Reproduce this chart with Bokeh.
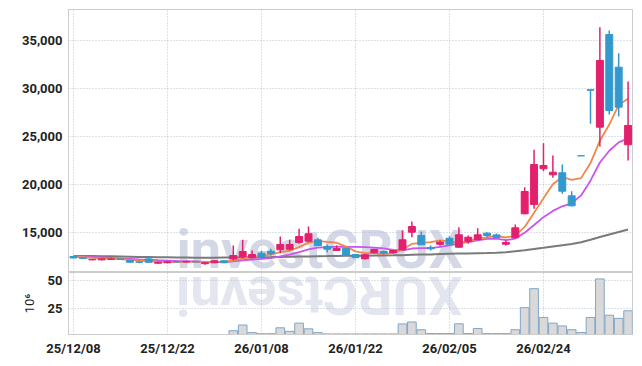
import math
from bokeh.plotting import figure
from bokeh.layouts import column
from bokeh.models import Range1d, FixedTicker, NumeralTickFormatter, ColumnDataSource
from bokeh.embed import file_html
from bokeh.resources import INLINE
from bokeh.core.properties import value

# ---------------- data ----------------
dates = [
    "25/12/08", "25/12/09", "25/12/10", "25/12/11", "25/12/12",
    "25/12/15", "25/12/16", "25/12/17", "25/12/18", "25/12/19",
    "25/12/22", "25/12/23", "25/12/24", "25/12/26", "25/12/29",
    "25/12/30", "26/01/02", "26/01/05", "26/01/06", "26/01/07",
    "26/01/08", "26/01/09", "26/01/12", "26/01/13", "26/01/14",
    "26/01/15", "26/01/16", "26/01/19", "26/01/20", "26/01/21",
    "26/01/22", "26/01/23", "26/01/26", "26/01/27", "26/01/28",
    "26/01/29", "26/01/30", "26/02/02", "26/02/03", "26/02/04",
    "26/02/05", "26/02/06", "26/02/09", "26/02/10", "26/02/11",
    "26/02/12", "26/02/13", "26/02/19", "26/02/20", "26/02/23",
    "26/02/24", "26/02/25", "26/02/26", "26/02/27", "26/03/03",
    "26/03/04", "26/03/05", "26/03/06", "26/03/09", "26/03/10",
]

opens = [12500, 12350, 12150, 12150, 12200, 12250, 12100, 11950, 12250, 11800,
         11850, 11980, 11930, 11990, 11750, 11850, 12050, 12250, 12500, 12370,
         12850, 13050, 13200, 13260, 13960, 14100, 14240, 13540, 13130, 13360,
         12700, 12260, 12890, 13020, 12890, 13200, 15030, 14690, 13440, 13780,
         14400, 13470, 14060, 14270, 14930, 14750, 13780, 14450, 16950, 17920,
         21640, 21010, 21220, 18820, 22990, 29870, 25970, 35620, 32220, 24140]
highs = [12550, 12400, 12250, 12300, 12300, 12300, 12150, 12000, 12530, 11950,
         12000, 12030, 12030, 12040, 11900, 12100, 12100, 13650, 14240, 13120,
         13100, 13300, 14580, 14240, 15380, 15620, 14450, 13750, 13650, 13400,
         12750, 12750, 13300, 13120, 13200, 15200, 16150, 15100, 13650, 14170,
         14620, 15550, 14690, 15450, 15030, 14900, 14170, 15830, 19720, 23615,
         24300, 23020, 22080, 19300, 22990, 29870, 36390, 36040, 33680, 30730]
lows = [12300, 12250, 12100, 12100, 12150, 12150, 11850, 11800, 11880, 11750,
        11800, 11880, 11880, 11890, 11650, 11800, 11800, 12080, 12290, 12300,
        12260, 12600, 12850, 13125, 13820, 13990, 13600, 12950, 13100, 12580,
        12350, 12200, 12850, 12680, 12850, 13150, 14510, 13700, 13120, 13650,
        13750, 13400, 13820, 14200, 14510, 14400, 13650, 14400, 16900, 17470,
        21385, 20700, 19030, 17700, 22990, 26320, 23960, 27290, 27080, 22500]
closes = [12350, 12300, 12200, 12250, 12250, 12200, 11900, 11900, 11900, 11900,
          11950, 11930, 11980, 11940, 11850, 12050, 11850, 12600, 13020, 12700,
          12500, 12800, 13750, 13750, 14580, 14860, 13620, 13260, 13330, 12600,
          12380, 12680, 13230, 12850, 13120, 14240, 15620, 13720, 13300, 13990,
          13780, 14760, 14510, 14760, 14690, 14480, 13960, 15490, 19270, 22080,
          21980, 21280, 19300, 17780, 22990, 29820, 32920, 27710, 28050, 26150]

# volume, millions of shares
volumes = [1.0, 1.0, 1.0, 1.0, 1.0, 1.0, 1.0, 1.0, 1.0, 1.0,
           1.0, 1.0, 1.0, 1.0, 1.0, 1.0, 1.0, 4.9, 10.0, 3.2,
           2.2, 2.2, 7.5, 4.3, 11.7, 6.6, 3.2, 2.0, 2.0, 2.0,
           2.0, 2.0, 2.0, 2.0, 2.0, 11.0, 12.7, 5.8, 2.4, 2.4,
           2.4, 11.1, 2.4, 6.9, 2.3, 2.3, 2.3, 5.8, 25.6, 42.6,
           16.8, 11.7, 9.2, 5.8, 3.3, 16.8, 51.3, 18.8, 16.0, 22.8]

ma5 = [12480, 12420, 12360, 12310, 12270, 12240, 12160, 12100, 12030, 11960,
       11910, 11916, 11932, 11940, 11930, 11950, 11934, 12058, 12274, 12444,
       12534, 12724, 12954, 13100, 13476, 13948, 14112, 14014, 13930, 13534,
       13038, 12850, 12844, 12748, 12852, 13224, 13812, 13910, 14000, 14174,
       14082, 13910, 14068, 14360, 14500, 14640, 14480, 14676, 15578, 17056,
       18556, 20020, 20782, 20484, 20666, 22234, 24562, 26244, 28298, 28930]
ma10 = [12520, 12480, 12440, 12400, 12350, 12300, 12250, 12200, 12160, 12115,
        12075, 12038, 12016, 11985, 11945, 11930, 11925, 11995, 12107, 12187,
        12242, 12329, 12506, 12687, 12960, 13241, 13418, 13484, 13515, 13505,
        13493, 13481, 13429, 13339, 13193, 13131, 13331, 13377, 13374, 13513,
        13653, 13861, 13989, 14180, 14337, 14361, 14195, 14372, 14969, 15778,
        16598, 17250, 17729, 18031, 18861, 20395, 22291, 23513, 24391, 24798]
ma_long = [12560, 12550, 12540, 12530, 12520, 12500, 12480, 12460, 12440, 12420,
           12410, 12400, 12390, 12380, 12370, 12380, 12390, 12400, 12410, 12420,
           12430, 12440, 12460, 12480, 12500, 12510, 12530, 12540, 12560, 12570,
           12580, 12590, 12600, 12610, 12620, 12640, 12680, 12700, 12720, 12750,
           12780, 12800, 12820, 12840, 12860, 12900, 12950, 13050, 13150, 13280,
           13400, 13550, 13680, 13800, 13990, 14250, 14530, 14800, 15050, 15320]

price_ticks = [15000, 20000, 25000, 30000, 35000]
volume_ticks = [25, 50]
date_tick_idx = [0, 10, 20, 30, 40, 50]
watermark = "investCRUX"

# ---------------- styling ----------------
UP = "#e2206c"
DOWN = "#3399cc"
GRID = "#b9c0d0"
BORDER = "#cccccc"
LABEL = "#222222"
WM = "#d4d8e6"
FONT = "Roboto"

idx = list(range(len(dates)))
colors = [UP if c > o else DOWN for o, c in zip(opens, closes)]
src = ColumnDataSource(dict(
    x=idx, o=opens, h=highs, l=lows, c=closes,
    top=[max(o, c) for o, c in zip(opens, closes)],
    bot=[min(o, c) for o, c in zip(opens, closes)],
    col=colors, vol=volumes, ma5=ma5, ma10=ma10, mal=ma_long,
))

x_range = Range1d(-0.53, 59.47)


def style(p):
    p.background_fill_color = "white"
    p.border_fill_color = "white"
    p.outline_line_color = BORDER
    p.grid.grid_line_color = GRID
    p.grid.grid_line_dash = "1 2"
    p.grid.grid_line_width = 1
    for ax in p.axis:
        ax.axis_line_color = BORDER
        ax.major_tick_line_color = None
        ax.minor_tick_line_color = None
        ax.major_tick_out = 0
        ax.major_tick_in = 0
        ax.major_label_text_font = FONT
        ax.major_label_text_font_style = "bold"
        ax.major_label_text_font_size = "13px"
        ax.major_label_text_color = LABEL


# ---- price panel ----
p1 = figure(width=634, height=272, x_range=x_range, y_range=Range1d(10833, 38229),
            x_axis_location=None, output_backend="svg", toolbar_location=None,
            min_border_left=68, min_border_right=2, min_border_top=9, min_border_bottom=0)
style(p1)
p1.yaxis.ticker = FixedTicker(ticks=price_ticks)
p1.yaxis.formatter = NumeralTickFormatter(format="0,0")
p1.yaxis.major_label_standoff = 6
p1.xgrid.ticker = FixedTicker(ticks=date_tick_idx)

wm1 = p1.text(x=[10.96], y=[9900], text=[watermark], text_font=value(FONT),
              text_font_style="bold", text_font_size="54px", text_color=WM,
              text_align="left", text_baseline="bottom")
wm1.level = "image"

p1.line("x", "mal", source=src, line_color="#7a7a7a", line_width=2)
p1.line("x", "ma10", source=src, line_color="#c955ee", line_width=1.8)
p1.line("x", "ma5", source=src, line_color="#f0884c", line_width=1.8)
p1.segment(x0="x", y0="h", x1="x", y1="l", source=src, line_color="col", line_width=1.5)
p1.vbar(x="x", top="top", bottom="bot", width=0.74, source=src,
        fill_color="col", line_color="col", line_width=1)

# ---- volume panel ----
p2 = figure(width=634, height=86, x_range=x_range, y_range=Range1d(1.5, 57.1),
            output_backend="svg", toolbar_location=None,
            min_border_left=68, min_border_right=2, min_border_top=0, min_border_bottom=21)
style(p2)
p2.yaxis.ticker = FixedTicker(ticks=volume_ticks)
p2.yaxis.major_label_standoff = 6
p2.yaxis.axis_label = "10\u2076"
p2.yaxis.axis_label_text_font = FONT
p2.yaxis.axis_label_text_font_style = "normal"
p2.yaxis.axis_label_text_font_size = "13px"
p2.yaxis.axis_label_text_color = LABEL
p2.yaxis.axis_label_standoff = 8
p2.xaxis.ticker = FixedTicker(ticks=date_tick_idx)
p2.xaxis.major_label_overrides = {i: dates[i] for i in date_tick_idx}
p2.xaxis.major_label_standoff = 6

wm2 = p2.text(x=[41.38], y=[64.7], text=[watermark[::-1]], text_font=value(FONT),
              text_font_style="bold", text_font_size="54px", text_color=WM,
              text_alpha=0.65, text_align="left", text_baseline="bottom",
              angle=math.pi)
wm2.level = "image"

p2.vbar(x="x", top="vol", bottom=0, width=0.92, source=src,
        fill_color="#d9d9d9", line_color="#7fa6c9", line_width=1)

layout = column(p1, p2, spacing=0)
open("out.html", "w").write(file_html(layout, INLINE))
